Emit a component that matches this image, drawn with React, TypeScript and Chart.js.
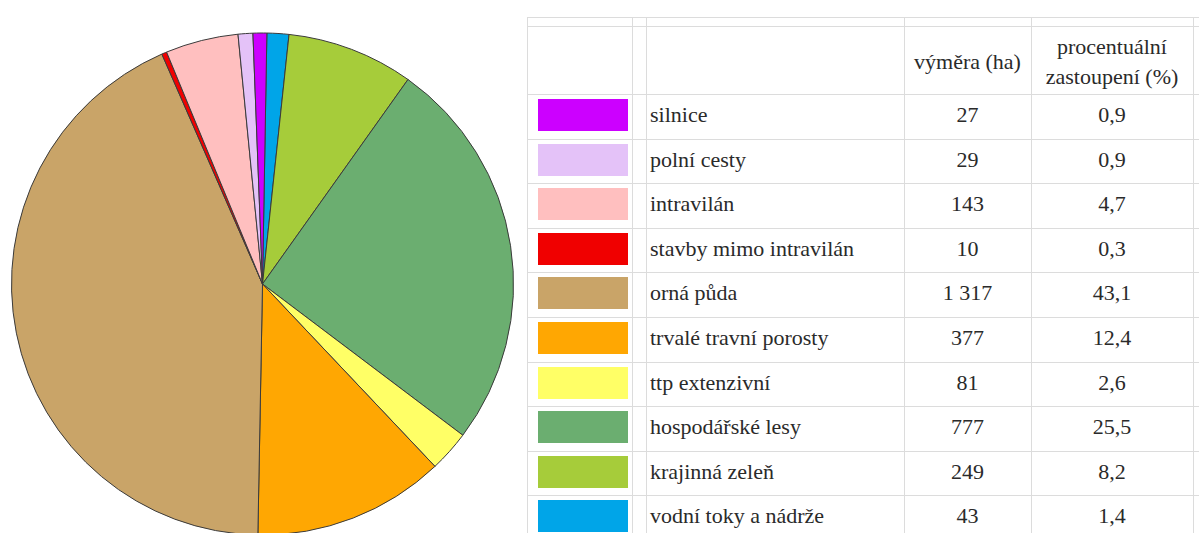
import React, { useEffect, useRef } from "react";
import { Chart, registerables } from "chart.js";

Chart.register(...registerables);

const categories = [
  "silnice",
  "polní cesty",
  "intravilán",
  "stavby mimo intravilán",
  "orná půda",
  "trvalé travní porosty",
  "ttp extenzivní",
  "hospodářské lesy",
  "krajinná zeleň",
  "vodní toky a nádrže",
];
const areaHa = [27, 29, 143, 10, 1317, 377, 81, 777, 249, 43];
const sharePct = [0.9, 0.9, 4.7, 0.3, 43.1, 12.4, 2.6, 25.5, 8.2, 1.4];
const colors = [
  "#CC00FF",
  "#E4C2F8",
  "#FFBFBF",
  "#F00000",
  "#C9A468",
  "#FFA702",
  "#FFFF66",
  "#6BAE70",
  "#A6CC3A",
  "#00A5E8",
];
const headerArea = "výměra (ha)";
const headerShare = ["procentuální", "zastoupení (%)"];

const fmtArea = (n: number) => String(n).replace(/\B(?=(\d{3})+(?!\d))/g, " ");
const fmtPct = (n: number) => n.toFixed(1).replace(".", ",");

const FONT = "'Liberation Serif', 'Times New Roman', Times, 'DejaVu Serif', serif";
const TEXT = "#2a2a2a";
const GRID = "#dcdcdc";

const ROW0 = 94;
const ROWH = 44.6;
const VLINES = [527, 632, 646, 904, 1031, 1193];
const HLINES = [17, 26, ...categories.map((_, i) => ROW0 + ROWH * i)];

export default function App() {
  const ref = useRef<HTMLCanvasElement | null>(null);

  useEffect(() => {
    if (!ref.current) return;
    const labels = [...categories].reverse();
    const values = [...areaHa].reverse();
    const bg = [...colors].reverse();
    const chart = new Chart(ref.current, {
      type: "pie",
      data: {
        labels,
        datasets: [
          {
            data: values,
            backgroundColor: bg,
            borderColor: "#3a3a3a",
            borderWidth: 1,
          },
        ],
      },
      options: {
        responsive: false,
        animation: false,
        rotation: 1,
        radius: 251,
        layout: { padding: 0 },
        plugins: {
          legend: { display: false },
          tooltip: { enabled: false },
        },
      },
    });
    return () => chart.destroy();
  }, []);

  const base: React.CSSProperties = {
    position: "absolute",
    fontFamily: FONT,
    fontSize: 22,
    color: TEXT,
    whiteSpace: "nowrap",
    lineHeight: "30px",
    height: 30,
  };

  return (
    <div
      style={{
        position: "absolute",
        left: 0,
        top: 0,
        width: 1199,
        height: 533,
        overflow: "hidden",
        background: "#fff",
        fontFamily: FONT,
        color: TEXT,
      }}
    >
      <div style={{ position: "absolute", left: 0, top: 0, width: 525, height: 568 }}>
        <canvas ref={ref} width={525} height={568} style={{ display: "block" }} />
      </div>

      {VLINES.map((x, i) => (
        <div
          key={"v" + i}
          style={{ position: "absolute", left: x, top: 17, width: 1, height: 533 - 17, background: GRID }}
        />
      ))}
      {HLINES.map((y, i) => (
        <div
          key={"h" + i}
          style={{ position: "absolute", left: 527, top: Math.round(y), width: 1199 - 527, height: 1, background: GRID }}
        />
      ))}

      <div style={{ ...base, left: 904, width: 127, top: 62 - 15, textAlign: "center" }}>{headerArea}</div>
      {headerShare.map((t, i) => (
        <div key={"hs" + i} style={{ ...base, left: 1031, width: 162, top: 32 + 30 * i, textAlign: "center" }}>
          {t}
        </div>
      ))}

      {categories.map((c, i) => {
        const top = ROW0 + ROWH * i;
        const mid = top + 21;
        return (
          <React.Fragment key={c}>
            <div
              style={{
                position: "absolute",
                left: 538,
                top: mid - 16,
                width: 90,
                height: 32,
                background: colors[i],
              }}
            />
            <div style={{ ...base, top: mid - 15, left: 650 }}>{c}</div>
            <div style={{ ...base, top: mid - 15, left: 904, width: 127, textAlign: "center" }}>{fmtArea(areaHa[i])}</div>
            <div style={{ ...base, top: mid - 15, left: 1031, width: 162, textAlign: "center" }}>{fmtPct(sharePct[i])}</div>
          </React.Fragment>
        );
      })}
    </div>
  );
}
